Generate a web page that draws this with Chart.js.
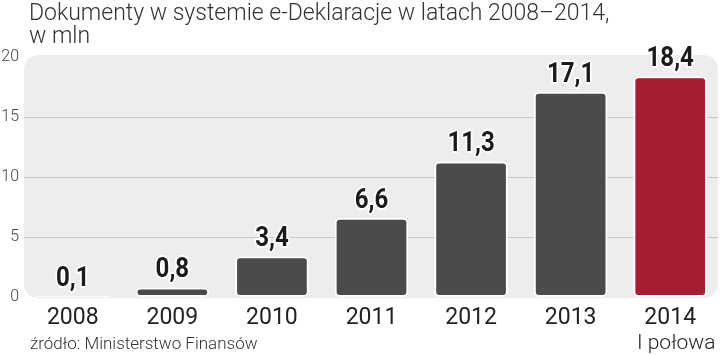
<!DOCTYPE html>
<html><head><meta charset="utf-8">
<script src="https://cdn.jsdelivr.net/npm/chart.js@4.4.1/dist/chart.umd.min.js"></script>
<style>
html,body{margin:0;padding:0;background:#fff;}
#wrap{position:relative;width:720px;height:355px;overflow:hidden;}
canvas{position:absolute;left:0;top:0;}
.title{position:absolute;left:29px;top:1px;font-family:Roboto,sans-serif;font-weight:300;font-size:23px;color:#333;line-height:23px;white-space:nowrap;}
.src{position:absolute;left:30px;top:333px;font-family:Roboto,sans-serif;font-weight:300;font-size:17px;color:#333;white-space:nowrap;}
</style></head><body>
<div id="wrap">
<canvas id="c" width="720" height="355"></canvas>
<div class="title">Dokumenty w systemie e-Deklaracje w latach 2008–2014,<br>w mln</div>
<div class="src">źródło: Ministerstwo Finansów</div>
</div>
<script>
const categories = ["2008","2009","2010","2011","2012","2013","2014"];
const subLabels = ["","","","","","","I połowa"];
const values = [0.1,0.8,3.4,6.6,11.3,17.1,18.4];
const yTicks = [0,5,10,15,20];
const barColors = ["#4b4b4b","#4b4b4b","#4b4b4b","#4b4b4b","#4b4b4b","#4b4b4b","#a31d33"];

function rr(ctx,x,y,w,h,r){
  ctx.beginPath();
  ctx.moveTo(x+r,y);ctx.lineTo(x+w-r,y);ctx.quadraticCurveTo(x+w,y,x+w,y+r);
  ctx.lineTo(x+w,y+h-r);ctx.quadraticCurveTo(x+w,y+h,x+w-r,y+h);
  ctx.lineTo(x+r,y+h);ctx.quadraticCurveTo(x,y+h,x,y+h-r);
  ctx.lineTo(x,y+r);ctx.quadraticCurveTo(x,y,x+r,y);ctx.closePath();
}

const panel = {
  id:'panel',
  beforeDraw(chart){
    const {ctx,chartArea:a,scales:{y}} = chart;
    ctx.save();
    ctx.fillStyle='#ededed';
    const top=y.getPixelForValue(20)-2, bot=y.getPixelForValue(0)+1;
    rr(ctx,a.left+1,top,718-(a.left+1),bot-top,16);
    ctx.fill();
    ctx.strokeStyle='#c9c9c9';ctx.lineWidth=1;
    yTicks.forEach(v=>{ if(v>0&&v<20){const py=Math.round(y.getPixelForValue(v))+0.5;ctx.beginPath();ctx.moveTo(a.left+1,py);ctx.lineTo(718,py);ctx.stroke();}});
    ctx.restore();
  }
};
const valLabels = {
  id:'valLabels',
  afterDatasetsDraw(chart){
    const {ctx} = chart;
    const meta = chart.getDatasetMeta(0);
    ctx.save();
    ctx.font='bold 28px Roboto, sans-serif';
    ctx.textAlign='center';ctx.textBaseline='alphabetic';
    ctx.lineJoin='round';
    const sx=0.86;
    meta.data.forEach((bar,i)=>{
      const t=values[i].toFixed(1).replace('.',',');
      const yy=bar.y-10;
      ctx.save();
      ctx.translate(bar.x,yy);ctx.scale(sx,1);
      ctx.strokeStyle='#fff';ctx.lineWidth=4;ctx.strokeText(t,0,0);
      ctx.fillStyle='#1b1b1b';ctx.fillText(t,0,0);
      ctx.restore();
    });
    const x=chart.scales.x;
    ctx.font='300 21px Roboto, sans-serif';
    ctx.fillStyle='#222';ctx.textBaseline='middle';
    subLabels.forEach((s,i)=>{ if(s) ctx.fillText(s,x.getPixelForValue(i)+6,344); });
    ctx.restore();
  }
};

new Chart(document.getElementById('c'),{
  type:'bar',
  data:{labels:categories,datasets:[{data:values,backgroundColor:barColors,borderColor:'#ffffff',borderWidth:[1,2,2,2,2,2,2],borderRadius:5,borderSkipped:false,barPercentage:0.74,categoryPercentage:1}]},
  options:{
    responsive:false,animation:false,
    layout:{padding:{top:57,right:0,left:0,bottom:0}},
    plugins:{legend:{display:false},tooltip:{enabled:false},title:{display:false}},
    scales:{
      y:{min:0,max:20,afterFit(s){s.width=23;},
        ticks:{stepSize:5,padding:4,color:'#444',font:{family:'Roboto',weight:300,size:16}},
        grid:{display:false,drawTicks:false},border:{display:false}},
      x:{afterFit(s){s.height=58;},
        ticks:{padding:7,color:'#222',font:{family:'Roboto',weight:400,size:23}},
        grid:{display:false,drawTicks:false},border:{display:false}}
    }
  },
  plugins:[panel,valLabels]
});
</script>
</body></html>
